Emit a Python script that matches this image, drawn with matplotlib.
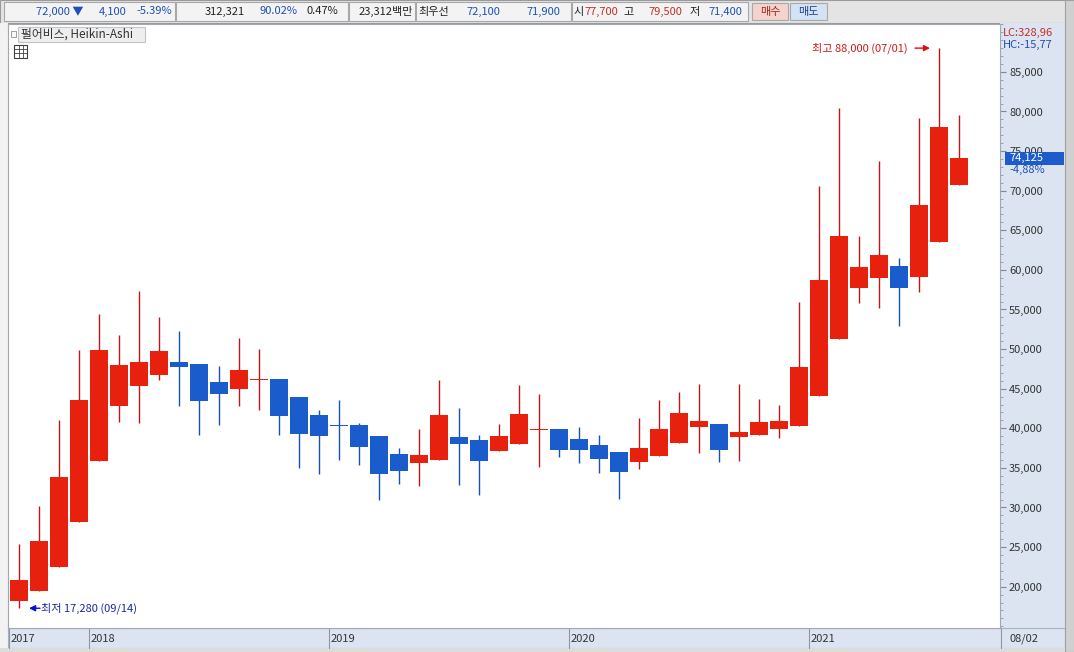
import matplotlib
matplotlib.use("Agg")
import matplotlib.pyplot as plt
from matplotlib.patches import Rectangle
from matplotlib.ticker import MultipleLocator, FuncFormatter

plt.rcParams["font.family"] = ["Noto Sans CJK KR", "DejaVu Sans"]

# 펄어비스 월봉 Heikin-Ashi, 2017/09 ~ 2021/08
ha_open = [18230, 19500, 22530, 28210, 35910, 42850, 45380, 46770, 48410, 48120, 45810, 45000,
           46150, 46220, 43950, 41680, 40420, 40420, 39030, 36790, 35660, 36040, 38900, 38520,
           37170, 38060, 39840, 39910, 38650, 37890, 36970, 35780, 36540, 38180, 40130, 40540,
           38940, 39190, 39950, 40330, 44040, 51310, 57750, 59010, 60490, 59140, 63560, 70760]
ha_close = [20850, 25770, 33850, 43570, 49890, 47990, 48410, 49760, 47780, 43480, 44290, 47360,
            46220, 41590, 39320, 39070, 40340, 37680, 34270, 34650, 36630, 41680, 37980, 35910,
            39030, 41810, 39900, 37220, 37220, 36160, 34520, 37510, 39910, 41970, 40920, 37300,
            39530, 40800, 40960, 47740, 58720, 64280, 60370, 61880, 57750, 68230, 78040, 74125]
ha_high = [25350, 30230, 41050, 49890, 54390, 51820, 57370, 54090, 52320, 48120, 47870, 51440,
           50010, 46220, 43950, 42310, 43540, 40630, 39030, 37550, 39870, 46100, 42530, 39150,
           40540, 45500, 44370, 39910, 40200, 39190, 36970, 41340, 43570, 44550, 45590, 40540,
           45590, 43700, 42940, 55950, 70630, 80440, 64280, 73790, 61460, 79220, 88000, 79500]
ha_low = [17280, 19500, 22530, 28210, 35910, 40760, 40630, 46100, 42820, 39130, 40420, 42820,
          42310, 39130, 35030, 34190, 36000, 35370, 30950, 32970, 32710, 36040, 32840, 31580,
          37170, 38060, 35150, 36410, 35580, 34390, 31040, 34900, 36540, 38180, 36840, 35780,
          35910, 39190, 38740, 40330, 44040, 51310, 55780, 55230, 52920, 57250, 63560, 70760]

years = ["2017", "2018", "2019", "2020", "2021"]
year_first = [0, 4, 16, 28, 40]   # 각 연도 첫 봉 위치

hi_idx, hi_val, hi_label = 46, 88000, "최고 88,000 (07/01)"
lo_idx, lo_val, lo_label = 0, 17280, "최저 17,280 (09/14)"
last_val = 74125

RED = "#e8200e"
BLUE = "#1a5ccc"
RED_W = "#c01515"
BLUE_W = "#1a50b0"
PANEL = "#dbe4f0"

W, H = 1074, 652
fig = plt.figure(figsize=(W / 100, H / 100), dpi=100)
fig.patch.set_facecolor("white")


def fx(x):
    return x / W


def fy(y):
    return 1 - y / H


def box(x0, y0, x1, y1, fc, ec="none", lw=0.8, z=0):
    fig.add_artist(Rectangle((fx(x0), fy(y1)), (x1 - x0) / W, (y1 - y0) / H,
                             transform=fig.transFigure, fc=fc, ec=ec, lw=lw, zorder=z))


def ftext(x, y, s, color="#222222", size=8.5, ha="left", **kw):
    fig.text(fx(x), fy(y), s, color=color, fontsize=size, ha=ha, va="center", **kw)


# 배경 패널들
box(0, 0, W, 23, "#e4e4e4", ec="#9a9a9a")
box(0, 23, 8, H, "#f2f2f2")
box(1000, 23, 1065, 648, PANEL)
box(8, 628, 1065, 648, PANEL, ec="#a8b4c4")
box(1065, 0, W, H, "#d0d0d0", ec="#a0a0a0")
box(0, 648, 1065, H, "#dcdcdc")

# 상단 시세 바
for x0, x1 in [(4, 175), (176, 348), (349, 415), (416, 571), (572, 748)]:
    box(x0, 2, x1, 21, "#f3f3f3", ec="#a8a8a8")
box(752, 3, 788, 20, "#f4d3cf", ec="#a8a8a8")
box(790, 3, 827, 20, "#d3e3f5", ec="#a8a8a8")

# (글자, x, 정렬, 색)
top_items = [
    ("72,000 ▼", 83, "right", "#1f4fb5"), ("4,100", 127, "right", "#1f4fb5"),
    ("-5.39%", 172, "right", "#1f4fb5"), ("312,321", 245, "right", "#222222"),
    ("90.02%", 298, "right", "#1f4fb5"), ("0.47%", 338, "right", "#222222"),
    ("23,312백만", 413, "right", "#222222"), ("최우선", 418, "left", "#222222"),
    ("72,100", 500, "right", "#1f4fb5"), ("71,900", 560, "right", "#1f4fb5"),
    ("시", 574, "left", "#222222"), ("77,700", 618, "right", "#c0302a"),
    ("고", 623, "left", "#222222"), ("79,500", 682, "right", "#c0302a"),
    ("저", 689, "left", "#222222"), ("71,400", 742, "right", "#1f4fb5"),
    ("매수", 770, "center", "#9a2a20"), ("매도", 808.5, "center", "#1f3f8a"),
]
for s, x, ha, c in top_items:
    ftext(x, 11.5, s, color=c, size=8, ha=ha)

# 차트 제목
box(11, 31, 16, 37, "#f8f8f8", ec="#909090", lw=0.6, z=3)
box(18, 27, 145, 42, "#eeeeee", ec="#c4c4c4", z=3)
ftext(21, 34.5, "펄어비스, Heikin-Ashi", color="#333333", size=8.5, zorder=4)
box(14, 45, 27, 58, "white", ec="#404040", lw=0.8, z=3)
for k in (49, 53):
    fig.add_artist(plt.Line2D([fx(14), fx(27)], [fy(k), fy(k)], color="#404040", lw=0.6, zorder=4))
for k in (18.5, 22.5):
    fig.add_artist(plt.Line2D([fx(k), fx(k)], [fy(45), fy(58)], color="#404040", lw=0.6, zorder=4))

# 캔들 차트
ax = fig.add_axes([fx(8), fy(628), (1000 - 8) / W, (628 - 24) / H])
ax.set_facecolor("white")
n = len(ha_open)
xs = list(range(n))
up = [c >= o for o, c in zip(ha_open, ha_close)]
body_col = [RED if u else BLUE for u in up]
wick_col = [RED_W if u else BLUE_W for u in up]
bottoms = [min(o, c) for o, c in zip(ha_open, ha_close)]
heights = [max(abs(c - o), 130) for o, c in zip(ha_open, ha_close)]

ax.vlines(xs, ha_low, ha_high, colors=wick_col, lw=1, zorder=2)
ax.bar(xs, heights, bottom=bottoms, width=0.92, color=body_col, linewidth=0, zorder=3)

ax.set_xlim(-0.55, 49.05)
ax.set_ylim(14785, 91046)
ax.set_xticks([])
ax.yaxis.tick_right()
ax.set_yticks(range(20000, 90000, 5000))
ax.yaxis.set_major_formatter(FuncFormatter(lambda v, p: f"{v:,.0f}"))
ax.yaxis.set_minor_locator(MultipleLocator(1000))
ax.tick_params(axis="y", which="major", length=4.5, width=0.8, color="#7a889c",
               labelsize=8, labelcolor="#333333", pad=2)
ax.tick_params(axis="y", which="minor", length=2, width=0.6, color="#8a98ac")
for side in ["left", "right", "top", "bottom"]:
    ax.spines[side].set_color("#a0a8b4")
    ax.spines[side].set_linewidth(0.8)

# 최고 / 최저 표시
ax.text(44.45, hi_val, hi_label, color="#cc1a1a", fontsize=8, ha="right", va="center")
ax.annotate("", xy=(hi_idx - 0.45, hi_val), xytext=(hi_idx - 1.2, hi_val),
            arrowprops=dict(arrowstyle="-|>", color="#dd1010", lw=1, mutation_scale=9,
                            shrinkA=0, shrinkB=0))
ax.annotate("", xy=(lo_idx + 0.5, lo_val), xytext=(lo_idx + 1.05, lo_val),
            arrowprops=dict(arrowstyle="-|>", color="#0a10d0", lw=1, mutation_scale=9,
                            shrinkA=0, shrinkB=0))
ax.text(lo_idx + 1.1, lo_val, lo_label, color="#1a28a8", fontsize=8, ha="left", va="center")

# 연도 라벨
xt = ax.get_xaxis_transform()
for yr, s in zip(years, year_first):
    ax.plot([s - 0.5, s - 0.5], [-0.0017, -0.0331], transform=xt, color="#8c98a8",
            lw=0.8, clip_on=False)
    ax.text(s - 0.43, -0.0175, yr, transform=xt, fontsize=8, color="#333333",
            ha="left", va="center", clip_on=False)
fig.add_artist(plt.Line2D([fx(1001), fx(1001)], [fy(628), fy(648)], color="#8c98a8", lw=0.8))
ftext(1010, 638.5, "08/02", color="#333333", size=8)

# 오른쪽 정보
ftext(1003, 33, "LC:328,96", color="#c0302a", size=8)
ftext(1003, 45, "HC:-15,77", color="#1f4fb5", size=8)

yt = ax.get_yaxis_transform()
ax.add_patch(Rectangle((1.005, last_val - 820), 0.0595, 1560, transform=yt,
                       fc="#1e5ccc", ec="none", clip_on=False, zorder=5))
ax.text(1.01, last_val, f"{last_val:,}", transform=yt, color="white", fontsize=8,
        ha="left", va="center", clip_on=False, zorder=6)
ax.text(1.01, last_val - 1500, "-4,88%", transform=yt, color="#1f4fb5", fontsize=8,
        ha="left", va="center", clip_on=False, zorder=6)

fig.savefig("out.png", dpi=100)
